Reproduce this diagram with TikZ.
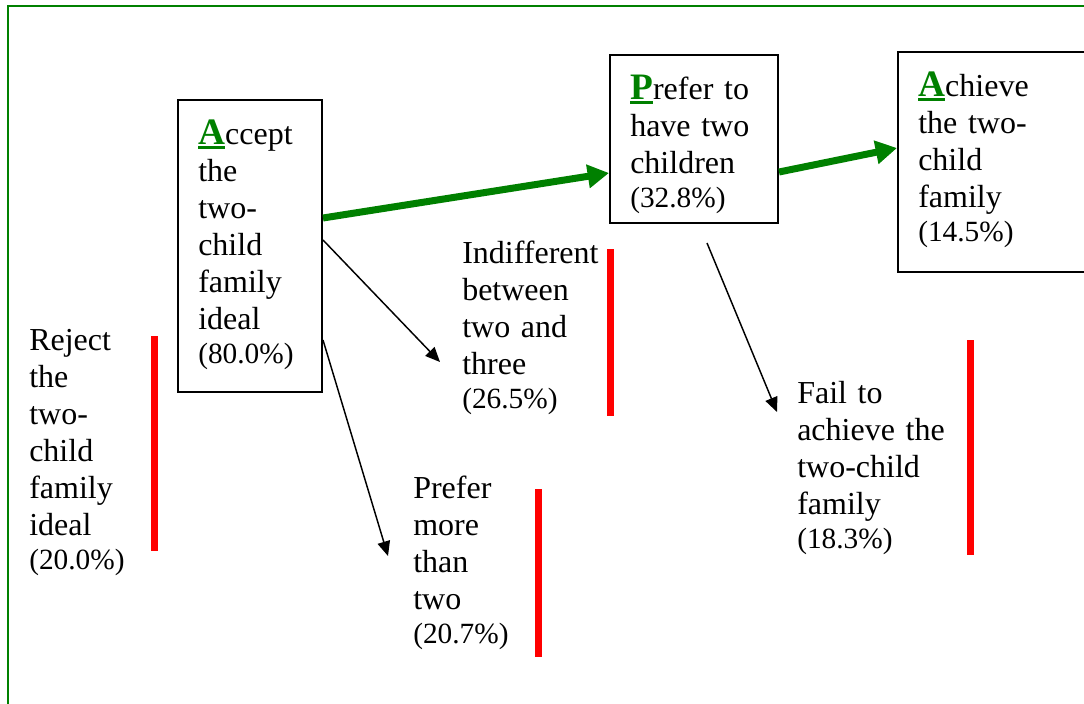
\documentclass[tikz,border=0pt]{standalone}
\usepackage{fontspec}
\setmainfont{Liberation Serif}
\usetikzlibrary{arrows.meta}
\definecolor{initgreen}{RGB}{0,128,0}
\newcommand\bodyfont{\fontsize{24}{27.75}\selectfont}
\newcommand\pctfont{\fontsize{22}{25.3}\selectfont}
\newcommand\initletter[1]{{\fontsize{28}{27.75}\selectfont\bfseries\color{initgreen}\setbox0\hbox{#1}\rlap{\rule[-3.6pt]{\wd0}{2.25pt}}\box0}}
\newcommand\pct[1]{\\[-2.25pt]{\pctfont(#1\%)}}
\begin{document}
\begin{tikzpicture}[x=0.75pt,y=-0.75pt,
  stagebox/.style={draw,line width=1.5pt,inner sep=0pt},
  stagetxt/.style={anchor=north west,inner sep=0pt,text width=160pt,align=left,
    font=\bodyfont,execute at begin node=\strut},
  inbox/.style={stagetxt,xshift=15.75pt,yshift=-14.25pt},
  mainpath/.style={initgreen,line width=5.25pt,-{Triangle[length=16pt,width=17pt]}},
  sidepath/.style={line width=1.1pt,-{Triangle[length=11pt,width=9.5pt]}},
  dropbar/.style={red,line width=5.25pt}]
\useasboundingbox (0,0) rectangle (1084,703);
\clip (0,0) rectangle (1084,703);
\draw[initgreen,line width=1.5pt] (8,710) -- (8,6) -- (1090,6);

\node[stagebox,minimum width=108pt,minimum height=219pt] (accept) at (250,246) {};
\node[stagebox,minimum width=126pt,minimum height=126pt] (prefer) at (694,139) {};
\node[stagebox,minimum width=151.5pt,minimum height=165pt] (achieve) at (999,162) {};
\node[inbox] (acceptTxt) at (accept.north west) {\initletter{A}ccept\\the\\two-\\child\\family\\ideal\pct{80.0}};
\node[inbox] (preferTxt) at (prefer.north west) {\initletter{P}refer to\\have two\\children\pct{32.8}};
\node[inbox] (achieveTxt) at (achieve.north west) {\initletter{A}chieve\\the two-\\child\\family\pct{14.5}};

\node[stagetxt] (reject) at (29,324) {Reject\\the\\two-\\child\\family\\ideal\pct{20.0}};
\node[stagetxt] (indiff) at (462,237) {Indifferent\\between\\two and\\three\pct{26.5}};
\node[stagetxt] (more) at (413,472) {Prefer\\more\\than\\two\pct{20.7}};
\node[stagetxt] (fail) at (797,377) {Fail to\\achieve the\\two-child\\family\pct{18.3}};

\coordinate (tipIndiff) at (440,362);
\coordinate (tipMore) at (388,556);
\coordinate (tipFail) at (777,412);
\draw[mainpath] ([yshift=21pt]accept.east) -- ([yshift=-25.5pt]prefer.west);
\draw[mainpath] ([yshift=-24.75pt]prefer.east) -- ([yshift=10.5pt]achieve.west);
\draw[sidepath] ([yshift=4.5pt]accept.east) -- (tipIndiff);
\draw[sidepath] ([yshift=-70.5pt]accept.east) -- (tipMore);
\draw[sidepath] ([xshift=9.75pt,yshift=-14.25pt]prefer.south) -- (tipFail);

\draw[dropbar] (154,336) -- (154,551);
\draw[dropbar] (610,249) -- (610,416);
\draw[dropbar] (538,489) -- (538,657);
\draw[dropbar] (970,340) -- (970,555);
\end{tikzpicture}
\end{document}
